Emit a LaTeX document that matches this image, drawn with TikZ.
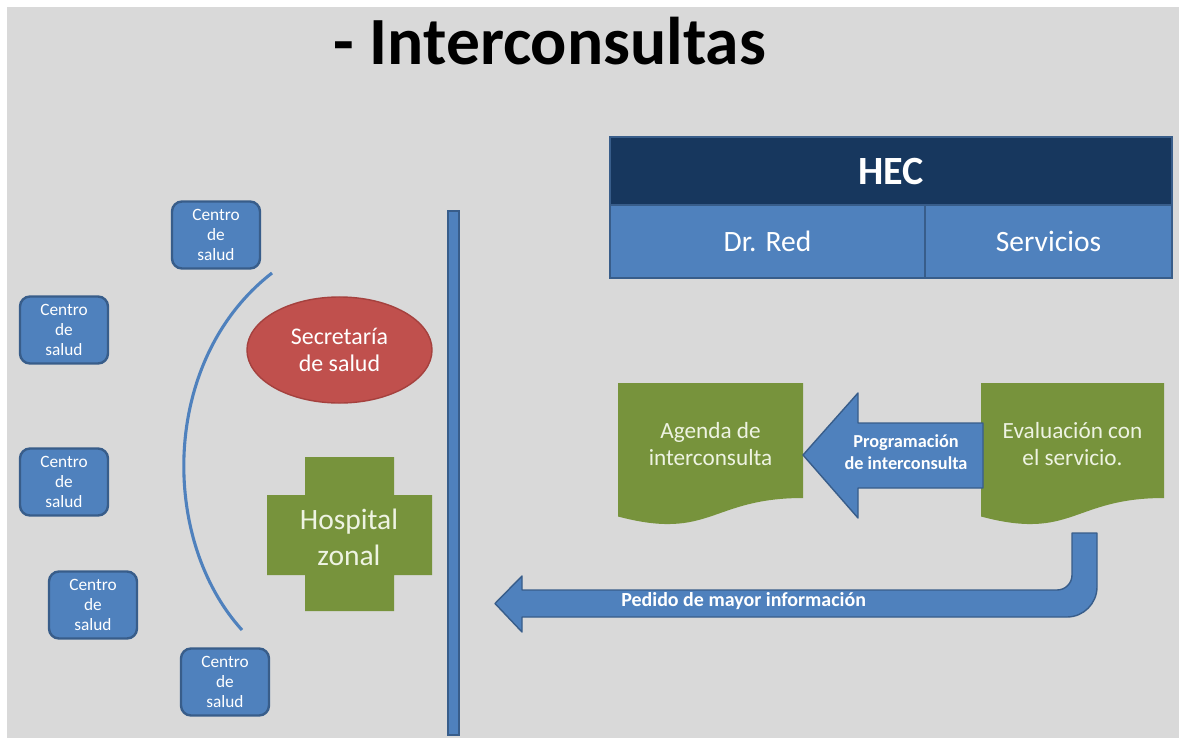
\documentclass[tikz,border=0pt]{standalone}
\usepackage{fontspec}
\setmainfont{Carlito}
\usetikzlibrary{shapes.geometric}
\definecolor{bg}{HTML}{D9D9D9}
\definecolor{bfill}{HTML}{4F81BD}
\definecolor{bline}{HTML}{385D8A}
\definecolor{navy}{HTML}{17375E}
\definecolor{rfill}{HTML}{C0504D}
\definecolor{rline}{HTML}{A5413E}
\definecolor{gfill}{HTML}{77933C}
\definecolor{ltext}{HTML}{EEF3E2}
\tikzset{
  centro/.style={rectangle, rounded corners=0.25cm, fill=bfill, draw=bline, line width=1.7pt,
    minimum width=2.2cm, minimum height=1.675cm, inner sep=0pt, align=center, text=white,
    font=\fontsize{12.3}{14.2}\selectfont},
  hecbox/.style={rectangle, fill=bfill, draw=bline, line width=1pt, inner sep=0pt,
    text=white, font=\fontsize{21}{24}\selectfont},
  doctext/.style={align=center, text=ltext, font=\fontsize{16.5}{19.5}\selectfont, inner sep=0pt},
  blockarrow/.style={fill=bfill, draw=bline, line width=1pt, line join=round},
  bartext/.style={text=white, inner sep=0pt, align=center}
}
\begin{document}
\begin{tikzpicture}[x=0.025cm,y=-0.025cm]
\useasboundingbox (0,0) rectangle (1179,738);
\fill[white] (0,0) rectangle (1179,738);
\fill[bg] (7,7) rectangle (1179,738);

% title
\node[anchor=base, inner sep=0pt, font=\fontsize{48}{52}\selectfont\bfseries] (title) at (550,64) {- Interconsultas};

% HEC table
\node[hecbox, fill=navy, minimum width=14.05cm, minimum height=1.7cm, font=\fontsize{28.5}{32}\selectfont\bfseries] (hec) at (891,171) {HEC};
\node[hecbox, minimum width=7.875cm, minimum height=1.825cm] (dred) at (767.5,241.5) {Dr. Red};
\node[hecbox, minimum width=6.175cm, minimum height=1.825cm] (serv) at (1048.5,241.5) {Servicios};

% centros de salud
\node[centro] (c1) at (216,235) {Centro\\de\\salud};
\node[centro] (c2) at (64,330) {Centro\\de\\salud};
\node[centro] (c3) at (64,482) {Centro\\de\\salud};
\node[centro] (c4) at (93,605) {Centro\\de\\salud};
\node[centro] (c5) at (225,682) {Centro\\de\\salud};

% arc
\draw[bfill, line width=2.2pt] (272,273) .. controls (160,360) and (160,540) .. (242,630);

% secretaria
\node[ellipse, fill=rfill, draw=rline, line width=1pt, minimum width=4.625cm, minimum height=2.65cm,
  align=center, text=white, inner sep=0pt, font=\fontsize{17}{19.5}\selectfont] (sec) at (339.5,350) {Secretaría\\de salud};

% hospital cross
\fill[gfill] (305,457) -- (394,457) -- (394,495) -- (432,495) -- (432,575) -- (394,575) -- (394,611)
  -- (305,611) -- (305,575) -- (267,575) -- (267,495) -- (305,495) -- cycle;
\node[align=center, text=ltext, inner sep=0pt, font=\fontsize{21}{25.5}\selectfont] (hosp) at (349,537) {Hospital\\zonal};

% vertical bar
\filldraw[fill=bfill, draw=bline, line width=1pt] (448,211) rectangle (459,735);

% documents
\fill[gfill] (618,383) -- (803,383) -- (803,498) .. controls (710.5,498) and (710.5,541) .. (618,516.5) -- cycle;
\node[doctext] (agenda) at (710.5,444) {Agenda de\\interconsulta};
\fill[gfill] (981,383) -- (1164,383) -- (1164,498) .. controls (1072.5,498) and (1072.5,541) .. (981,516.5) -- cycle;
\node[doctext] (eval) at (1072.5,444) {Evaluación con\\el servicio.};

% programacion arrow
\filldraw[blockarrow] (983,423) -- (858,423) -- (858,393) -- (803,455) -- (858,518) -- (858,488) -- (983,488) -- cycle;
\node[bartext, font=\fontsize{13}{16}\selectfont\bfseries] (prog) at (906,452) {Programación\\de interconsulta};

% pedido arrow
\filldraw[blockarrow] (1072,533) -- (1097,533) -- (1097,587) .. controls (1097,603.5) and (1083.5,617) .. (1067,617)
  -- (522,617) -- (522,632) -- (495,603.5) -- (522,576) -- (522,590) -- (1057,590)
  .. controls (1065.3,590) and (1072,583.3) .. (1072,575) -- cycle;
\node[bartext, anchor=west, font=\fontsize{14.2}{16}\selectfont\bfseries] (pedido) at (621,601) {Pedido de mayor información};
\end{tikzpicture}
\end{document}
